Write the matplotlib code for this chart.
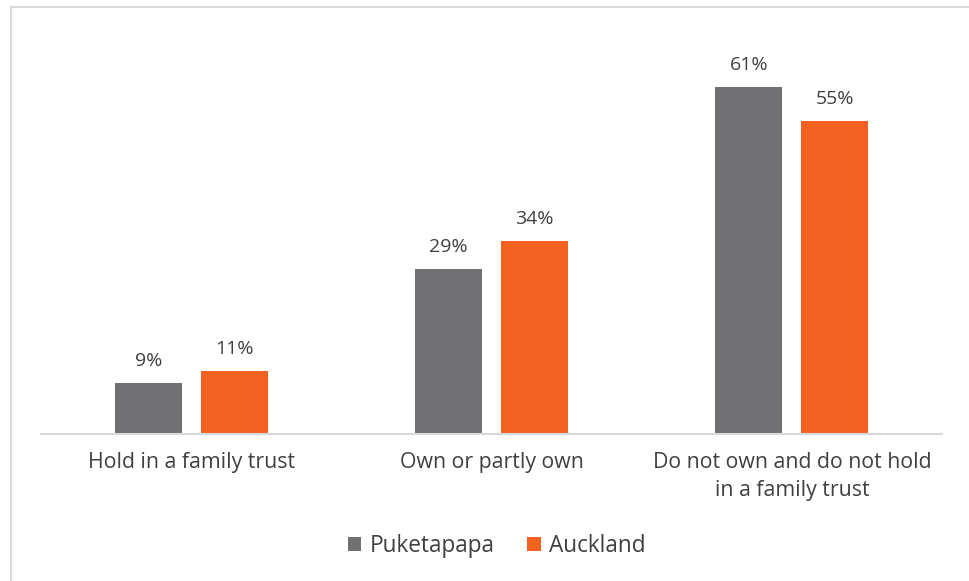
import matplotlib
matplotlib.use("Agg")
import matplotlib.pyplot as plt
from matplotlib.patches import Rectangle
import numpy as np

categories = ["Hold in a family trust", "Own or partly own",
              "Do not own and do not hold\nin a family trust"]
puketapapa = [9, 29, 61]
auckland = [11, 34, 55]
series_names = ["Puketapapa", "Auckland"]
colors = ["#717073", "#F26122"]
text_color = "#404040"

plt.rcParams['font.family'] = ['Open Sans', 'DejaVu Sans']

fig = plt.figure(figsize=(9.70, 5.81), dpi=100)
# light grey frame round the chart
fig.patches.append(Rectangle((11 / 970, -0.05), 1.2, 1.05 - 7 / 581,
                             transform=fig.transFigure, fill=False,
                             edgecolor="#D9D9D9", linewidth=1.5))

ax = fig.add_axes([41 / 970, (581 - 434) / 581, 901 / 970, 398 / 581])

x = np.arange(len(categories))
w = 0.223
off = 0.143
b1 = ax.bar(x - off, puketapapa, w, color=colors[0], label=series_names[0])
b2 = ax.bar(x + off, auckland, w, color=colors[1], label=series_names[1])

for bars, vals in ((b1, puketapapa), (b2, auckland)):
    for b, v in zip(bars, vals):
        ax.text(b.get_x() + b.get_width() / 2, v + 2.3, f"{v}%",
                ha="center", va="bottom", fontsize=14, color=text_color)

ax.set_xlim(-0.5, len(categories) - 0.5)
ax.set_ylim(0, 70)
ax.set_xticks(x)
ax.set_xticklabels(categories, fontsize=15.3, color=text_color,
                   linespacing=1.45)
ax.tick_params(axis="x", length=0, pad=13)
ax.set_yticks([])
for s in ("top", "right", "left"):
    ax.spines[s].set_visible(False)
ax.spines["bottom"].set_color("#D9D9D9")
ax.spines["bottom"].set_linewidth(1.5)

leg = fig.legend(loc="center", bbox_to_anchor=(0.512, (581 - 546) / 581),
                 ncol=2, frameon=False, fontsize=16.3, handlelength=0.6,
                 handleheight=0.6, handletextpad=0.35, columnspacing=1.45)
for t in leg.get_texts():
    t.set_color(text_color)

fig.savefig("out.png", dpi=100)
